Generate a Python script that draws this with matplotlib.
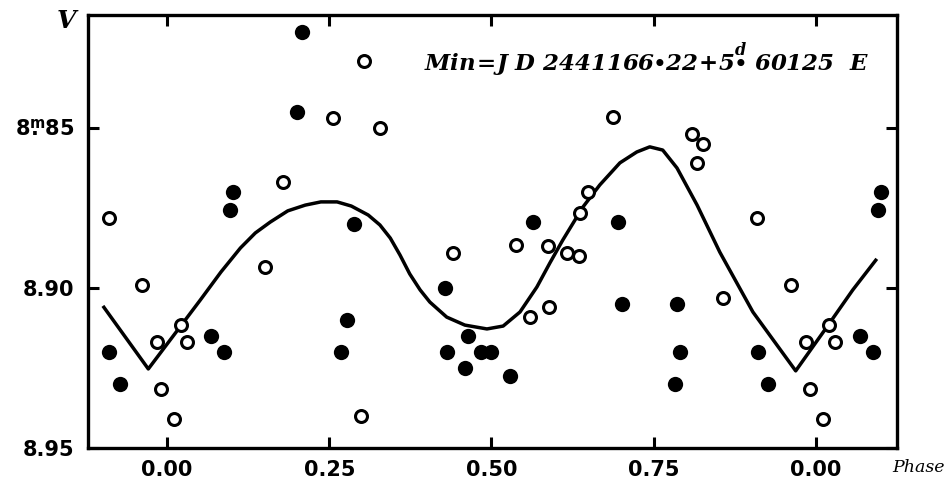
import numpy as np
import matplotlib.pyplot as plt

# phases in [0, 1), V magnitudes
filled_phase = [0.208, 0.200, 0.101, 0.0965, 0.288, 0.911, 0.927, 0.068, 0.088,
                0.277, 0.268, 0.428, 0.464, 0.431, 0.484, 0.499, 0.459, 0.529,
                0.564, 0.695, 0.701, 0.786, 0.790, 0.783]
filled_mag = [8.820, 8.845, 8.870, 8.8755, 8.880, 8.920, 8.930, 8.915, 8.920,
              8.910, 8.920, 8.900, 8.915, 8.920, 8.920, 8.920, 8.925, 8.9275,
              8.8795, 8.8795, 8.905, 8.905, 8.920, 8.930]

open_phase = [0.910, 0.962, 0.985, 0.021, 0.030, 0.991, 0.011, 0.179, 0.151,
              0.3035, 0.256, 0.328, 0.299, 0.441, 0.538, 0.587, 0.616, 0.635,
              0.649, 0.636, 0.559, 0.589, 0.687, 0.809, 0.826, 0.817, 0.857]
open_mag = [8.878, 8.899, 8.917, 8.9115, 8.917, 8.9316, 8.941, 8.867, 8.8934,
            8.829, 8.847, 8.850, 8.940, 8.889, 8.8866, 8.887, 8.889, 8.890,
            8.870, 8.8766, 8.909, 8.906, 8.8466, 8.852, 8.855, 8.861, 8.903]

# mean light curve as drawn
curve_phase = [-0.099, -0.029, 0.022, 0.051, 0.083, 0.113, 0.136, 0.159, 0.186,
               0.213, 0.237, 0.262, 0.284, 0.310, 0.328, 0.344, 0.359, 0.374,
               0.390, 0.405, 0.431, 0.459, 0.493, 0.518, 0.544, 0.570, 0.590,
               0.610, 0.641, 0.667, 0.698, 0.724, 0.744, 0.764, 0.786, 0.817,
               0.852, 0.903, 0.969, 1.017, 1.057, 1.094]
curve_mag = [8.9056, 8.9253, 8.9116, 8.9038, 8.8950, 8.8875, 8.8828, 8.8794, 8.8759,
             8.8741, 8.8731, 8.8731, 8.8744, 8.8772, 8.8803, 8.8844, 8.8897, 8.8956,
             8.9006, 8.9044, 8.9091, 8.9116, 8.9128, 8.9119, 8.9075, 8.8997, 8.8922,
             8.8850, 8.8747, 8.8678, 8.8609, 8.8575, 8.8559, 8.8569, 8.8625, 8.8741,
             8.8888, 8.9075, 8.9259, 8.9122, 8.9006, 8.8909]

xticks = [0.0, 0.25, 0.50, 0.75, 1.0]
xtick_labels = ["0.00", "0.25", "0.50", "0.75", "0.00"]
yticks = [8.85, 8.90, 8.95]
ytick_labels = [r"$\mathbf{8\overset{m}{.}85}$", "8.90", "8.95"]

XMIN, XMAX = -0.122, 1.125


def wrap(phase, mag):
    # repeat points one cycle left/right, keep what falls in the window
    p = np.asarray(phase)
    m = np.asarray(mag)
    pp = np.concatenate([p - 1, p, p + 1])
    mm = np.concatenate([m, m, m])
    keep = (pp > XMIN + 0.005) & (pp < XMAX - 0.005)
    return pp[keep], mm[keep]


plt.rcParams['mathtext.fontset'] = 'custom'
plt.rcParams['mathtext.rm'] = 'DejaVu Serif:italic:bold'
plt.rcParams['mathtext.it'] = 'DejaVu Serif:italic:bold'
plt.rcParams['mathtext.bf'] = 'DejaVu Sans:bold'

fig = plt.figure(figsize=(9.45, 4.83), dpi=100)
ax = fig.add_axes([0.0931, 0.0725, 0.856, 0.8964])

ax.plot(curve_phase, curve_mag, color='black', lw=2.5,
        solid_joinstyle='round', solid_capstyle='butt')

fx, fy = wrap(filled_phase, filled_mag)
ax.plot(fx, fy, 'o', ms=11, color='black', mec='black', mew=0)
ox, oy = wrap(open_phase, open_mag)
ax.plot(ox, oy, 'o', ms=8.6, mfc='white', mec='black', mew=2.2)

ax.set_xlim(XMIN, XMAX)
ax.set_ylim(8.95, 8.8147)

ax.set_xticks(xticks)
ax.set_xticklabels(xtick_labels, fontsize=15, fontweight='bold')
ax.set_yticks(yticks)
ax.set_yticklabels(ytick_labels, fontsize=15, fontweight='bold')
ax.tick_params(direction='in', length=8, width=2.2, top=True, right=True,
               labelright=False, labeltop=False)
ax.tick_params(axis='x', pad=9)
ax.tick_params(axis='y', pad=10)
for s in ax.spines.values():
    s.set_linewidth(2.4)

fig.text(66 / 945, 1 - 21 / 483, 'V', fontsize=18, fontweight='bold', style='italic',
         family='DejaVu Serif', ha='center', va='center')
fig.text(892 / 945, 1 - 468 / 483, 'Phase', fontsize=12.5, style='italic',
         family='DejaVu Serif', ha='left', va='center')
fig.text(424 / 945, 1 - 60 / 483,
         r"$Min\!=\!J\ D\ 2441166{\bullet}22\!+\!5\overset{d}{\bullet}\ 60125\ \ E$",
         fontsize=16.5, ha='left', va='center')

fig.savefig('out.png', dpi=100)
